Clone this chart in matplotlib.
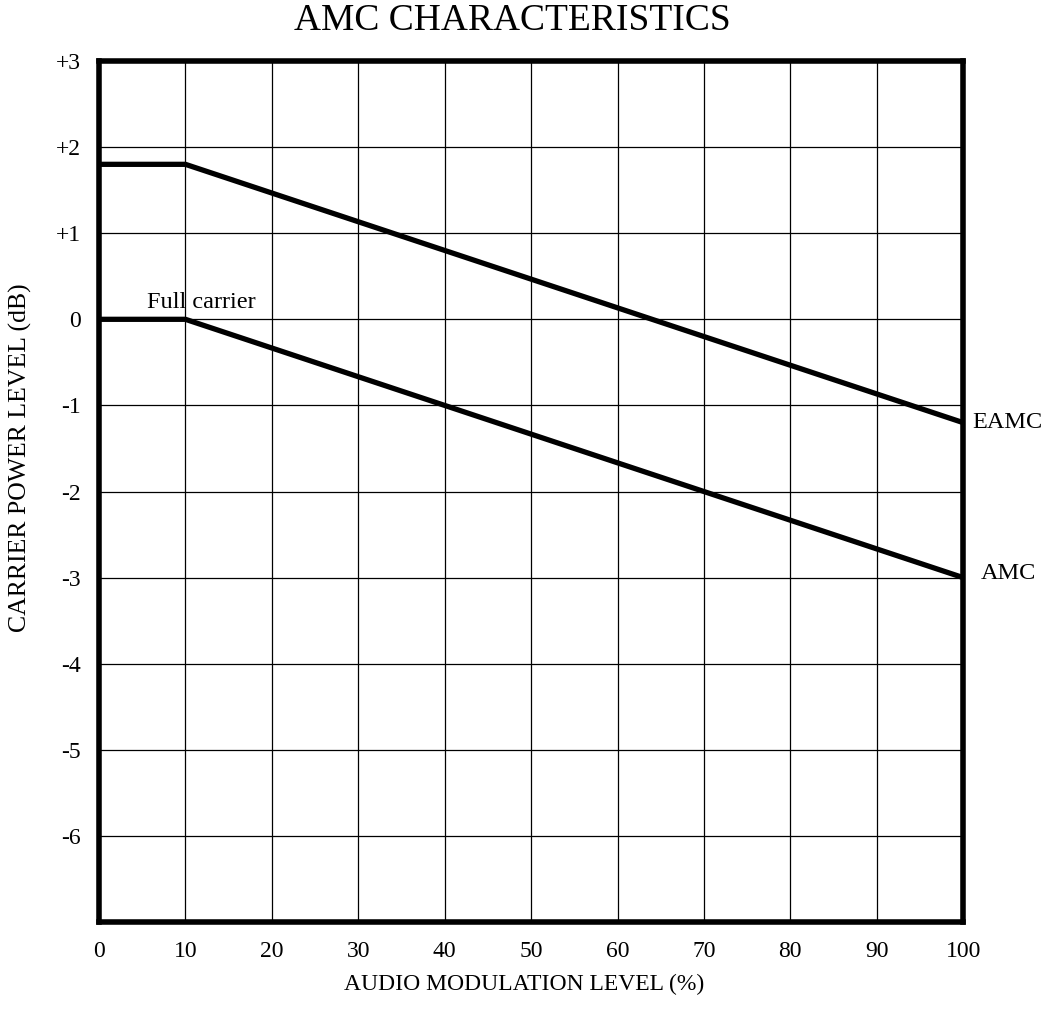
"""
AMC characteristics chart
"""

import matplotlib
matplotlib.use('Agg')
from matplotlib import pyplot as plt

# data
eamc_x = [0, 10, 100]
eamc_y = [1.8, 1.8, -1.2]
amc_x = [0, 10, 100]
amc_y = [0, 0, -3]
x_ticks = [0, 10, 20, 30, 40, 50, 60, 70, 80, 90, 100]
y_ticks = [3, 2, 1, 0, -1, -2, -3, -4, -5, -6, -7]
y_tick_labels = ['+3', '+2', '+1', '0', '-1', '-2', '-3', '-4', '-5', '-6', '']

plt.rcParams['font.family'] = ['Liberation Serif', 'DejaVu Serif']

fig = plt.figure(figsize=(10.5, 10.1), dpi=100)
ax = fig.add_axes([0.0943, 0.0871, 0.823, 0.8525])

ax.plot(eamc_x, eamc_y, color='black', lw=3.8, solid_capstyle='butt', zorder=3)
ax.plot(amc_x, amc_y, color='black', lw=3.8, solid_capstyle='butt', zorder=3)

ax.set_xlim(0, 100)
ax.set_ylim(-7, 3)
ax.set_xticks(x_ticks)
ax.set_yticks(y_ticks)
ax.set_yticklabels(y_tick_labels)
ax.tick_params(length=0, labelsize=17)
ax.tick_params(axis='x', pad=14)
ax.tick_params(axis='y', pad=13)
ax.grid(True, color='black', lw=0.9)

for s in ax.spines.values():
    s.set_linewidth(4)

ax.text(5.5, 0.07, 'Full carrier', fontsize=17.5, ha='left', va='bottom')
ax.text(101.1, eamc_y[-1], 'EAMC', fontsize=17.5, ha='left', va='center', clip_on=False)
ax.text(102, amc_y[-1] + 0.05, 'AMC', fontsize=17.5, ha='left', va='center', clip_on=False)

ax.set_title('AMC CHARACTERISTICS', fontsize=27, pad=22, x=0.478)
ax.set_xlabel('AUDIO MODULATION LEVEL (%)', fontsize=17)
ax.xaxis.set_label_coords(0.492, -0.06)
ax.set_ylabel('CARRIER POWER LEVEL (dB)', fontsize=18.5)
ax.yaxis.set_label_coords(-0.078, 0.539)

fig.savefig('out.png', dpi=100)
